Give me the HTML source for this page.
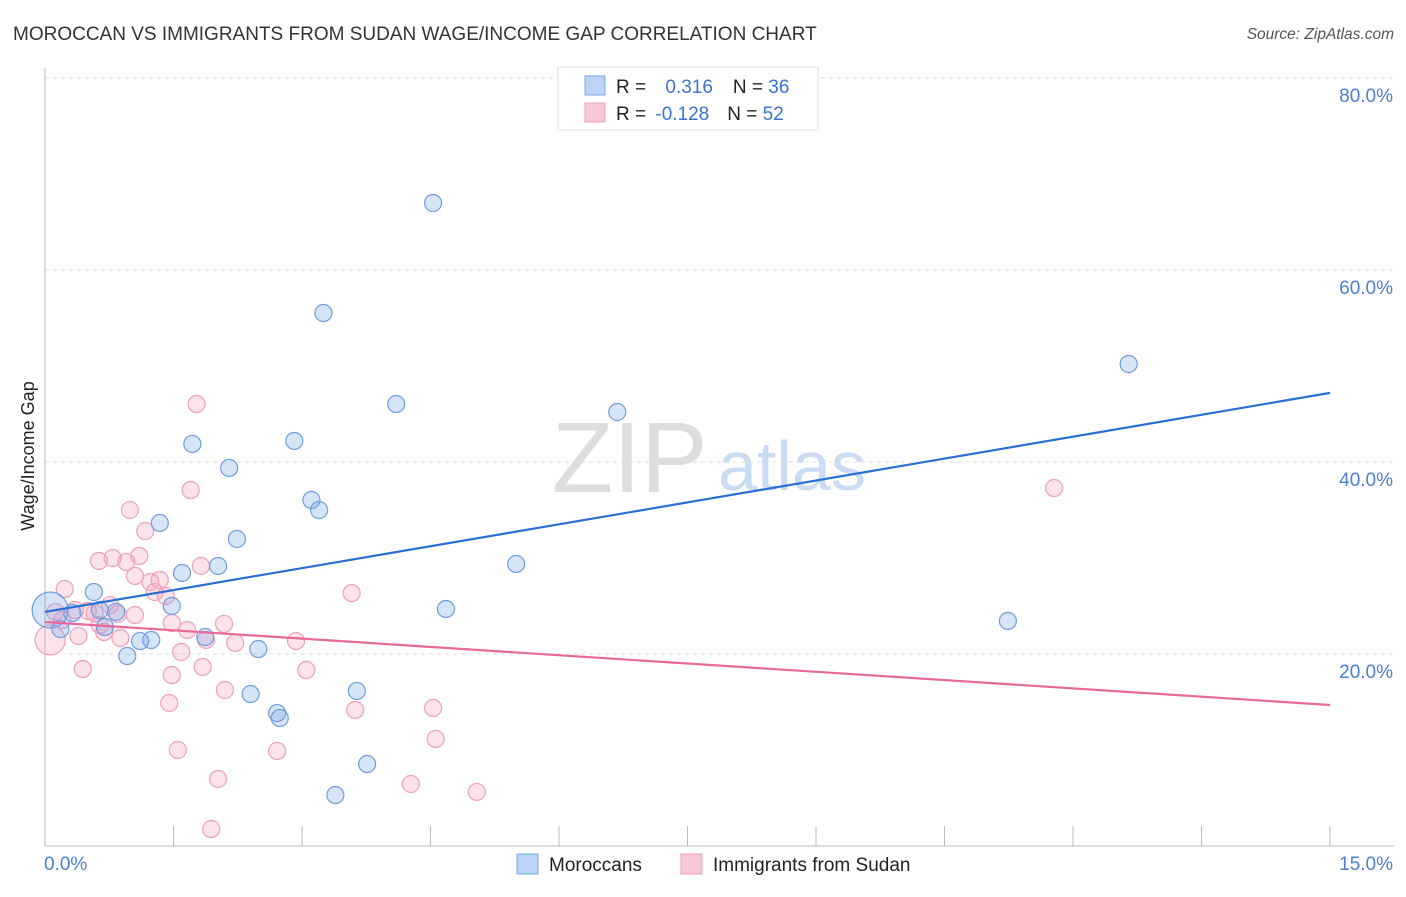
<!DOCTYPE html>
<html><head><meta charset="utf-8"><style>
body{margin:0;background:#fff;font-family:"Liberation Sans",sans-serif;}
svg text{font-family:"Liberation Sans",sans-serif;}
</style></head><body>
<svg width="1406" height="892">
<text x="13" y="40" font-size="19" fill="#333">MOROCCAN VS IMMIGRANTS FROM SUDAN WAGE/INCOME GAP CORRELATION CHART</text>
<text x="1394" y="39" font-size="15.5" fill="#555" font-style="italic" text-anchor="end">Source: ZipAtlas.com</text>
<g id="grid"></g>
<g><text x="552" y="492" font-size="100" fill="#ddd" font-family="Liberation Serif">ZIP</text><text x="718" y="490" font-size="70" fill="#c9dcf3">atlas</text></g>
<line x1="45" y1="68" x2="45" y2="846" stroke="#bbb"/>
<line x1="45" y1="846" x2="1394" y2="846" stroke="#bbb"/>
<text transform="translate(34,456) rotate(-90)" font-size="18" fill="#222" text-anchor="middle">Wage/Income Gap</text>
<text x="44" y="870" font-size="19" fill="#4a7fd4">0.0%</text>
<text x="1393" y="870" font-size="19" fill="#4a7fd4" text-anchor="end">15.0%</text>
<g id="pts"></g>
<g>
<rect x="558" y="67" width="260" height="63" fill="#fff" stroke="#ddd"/>
<rect x="585" y="76" width="20" height="19" fill="#bcd3f5" stroke="#7aa6e6"/>
<rect x="585" y="103" width="20" height="19" fill="#f8c8d6" stroke="#eea0b8"/>
<text x="616" y="93" font-size="19" fill="#222">R = <tspan fill="#3a74d0" dx="14">0.316</tspan><tspan dx="20" fill="#222">N = </tspan><tspan fill="#3a74d0">36</tspan></text>
<text x="616" y="120" font-size="19" fill="#222">R = <tspan fill="#3a74d0" dx="4">-0.128</tspan><tspan dx="18" fill="#222">N = </tspan><tspan fill="#3a74d0">52</tspan></text>
</g>
<g>
<rect x="517" y="854" width="21" height="20" fill="#bcd3f5" stroke="#7aa6e6"/>
<text x="549" y="871" font-size="19" fill="#222">Moroccans</text>
<rect x="681" y="854" width="21" height="20" fill="#f8c8d6" stroke="#eea0b8"/>
<text x="713" y="871" font-size="19" fill="#222">Immigrants from Sudan</text>
</g>
</svg>
<script>
const yTicks=[20,40,60,80];
const xTicks=[0,1.5,3,4.5,6,7.5,9,10.5,12,13.5,15];
const blueX=[4.53,3.25,12.65,4.10,6.68,1.72,2.91,2.15,3.11,3.20,1.34,2.24,5.50,1.60,2.02,0.57,1.48,4.68,0.83,11.24,0.32,0.70,0.18,1.87,1.24,1.11,0.96,2.49,2.40,3.64,2.71,2.74,3.76,3.39,0.06,0.64];
const blueY=[66.98,55.52,50.21,46.04,45.21,41.88,42.19,39.38,36.04,35.00,33.65,31.98,29.38,28.44,29.17,26.46,25.00,24.69,24.38,23.44,24.27,22.81,22.60,21.77,21.46,21.35,19.79,20.52,15.83,16.15,13.85,13.33,8.54,5.31,24.58,24.58];
const blueBig=[34];
const pinkX=[1.77,1.70,11.78,0.99,1.17,0.63,0.79,0.95,1.10,1.05,1.23,1.34,0.23,3.58,1.41,1.82,1.28,0.50,0.58,0.85,1.05,1.48,2.09,1.66,0.39,0.69,0.88,1.88,2.22,2.93,1.59,0.44,3.05,1.84,1.48,2.10,1.45,3.62,4.53,4.56,1.55,2.71,2.02,4.27,5.04,1.94,0.06,0.12,0.35,0.20,0.64,0.76];
const pinkY=[46.04,37.08,37.29,35.00,32.81,29.69,30.00,29.58,30.21,28.13,27.50,27.71,26.77,26.35,26.04,29.17,26.46,24.48,24.27,24.17,24.06,23.23,23.13,22.50,21.88,22.29,21.67,21.46,21.15,21.35,20.21,18.44,18.33,18.65,17.81,16.25,14.90,14.17,14.38,11.15,10.00,9.90,6.98,6.46,5.63,1.77,21.46,24.38,24.58,23.54,23.02,25.10];
const pinkBig=[46];
const blueTrend=[24.38,47.2];
const pinkTrend=[23.33,14.69];
const sx=v=>45+v/15*1285, sy=v=>846-v/20*192;
const NS='http://www.w3.org/2000/svg';
const grid=document.getElementById('grid'), pts=document.getElementById('pts');
yTicks.forEach(t=>{
 const l=document.createElementNS(NS,'line');
 l.setAttribute('x1',45);l.setAttribute('x2',1394);l.setAttribute('y1',sy(t));l.setAttribute('y2',sy(t));
 l.setAttribute('stroke','#ddd');l.setAttribute('stroke-dasharray','4,4');
 
 
 grid.appendChild(l);
 const tx=document.createElementNS(NS,'text');
 tx.setAttribute('x',1393);tx.setAttribute('y',sy(t)+24);tx.setAttribute('text-anchor','end');
 tx.setAttribute('font-size','19');tx.setAttribute('fill','#4a7fd4');tx.textContent=t.toFixed(1)+'%';
 
 
 grid.appendChild(tx);
});
xTicks.forEach(t=>{
 const l=document.createElementNS(NS,'line');
 l.setAttribute('x1',sx(t));l.setAttribute('x2',sx(t));l.setAttribute('y1',826);l.setAttribute('y2',846);
 l.setAttribute('stroke','#bbb');
 
 
 grid.appendChild(l);
});
function dots(X,Y,big,bigR,fill,stroke,name){
 X.forEach((x,i)=>{
  const c=document.createElementNS(NS,'circle');
  c.setAttribute('cx',sx(x));c.setAttribute('cy',sy(Y[i]));c.setAttribute('r',big.includes(i)?bigR:8.5);
  c.setAttribute('fill',fill);c.setAttribute('stroke',stroke);c.setAttribute('stroke-width','1.2');
  
  
  pts.appendChild(c);
 });
}
dots(pinkX,pinkY,pinkBig,15,'rgba(244,160,186,0.3)','#eea0b8','sudan-point');
dots(blueX,blueY,blueBig,18,'rgba(120,165,232,0.3)','#6e9de0','moroccan-point');
function trend(v,color,name){
 const l=document.createElementNS(NS,'line');
 l.setAttribute('x1',sx(0));l.setAttribute('x2',sx(15));l.setAttribute('y1',sy(v[0]));l.setAttribute('y2',sy(v[1]));
 l.setAttribute('stroke',color);l.setAttribute('stroke-width','2.2');
 
 
 pts.appendChild(l);
}
trend(blueTrend,'#2a6fd6','moroccan-trendline');
trend(pinkTrend,'#e8689a','sudan-trendline');
</script>
</body></html>
